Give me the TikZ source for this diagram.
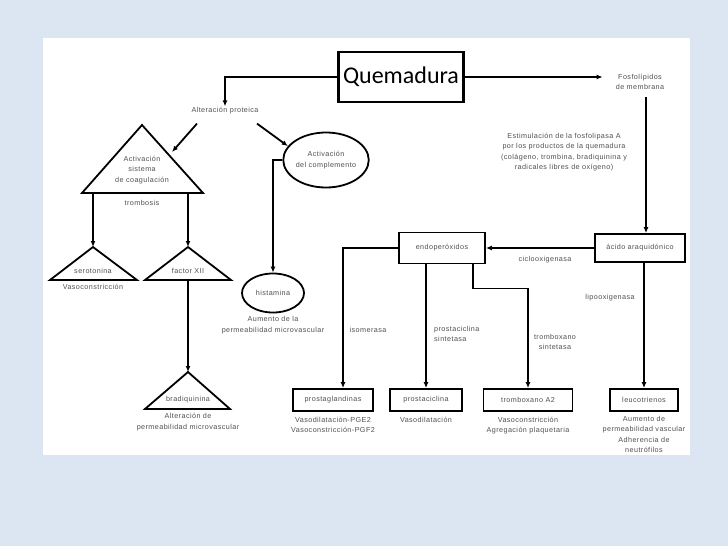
\documentclass[tikz,border=0pt]{standalone}
\usepackage{fontspec}
\setmainfont{Liberation Sans}[LetterSpace=6]
\newfontfamily\titulo{Carlito}
\usepackage{tikz}
\usetikzlibrary{arrows.meta, positioning, calc, shapes.geometric}

\definecolor{fondo}{RGB}{220,230,242}
\definecolor{texto}{RGB}{80,80,80}

\begin{document}
\begin{tikzpicture}[x=1pt, y=-1pt, >={Latex[length=6pt,width=5pt]},
    txt/.style={font=\fontsize{7.2}{10.5}\selectfont, text=texto, align=center, inner sep=1pt},
    caja/.style={draw, line width=1.8pt, txt, minimum height=22pt},
    elipse/.style={draw, ellipse, line width=1.8pt, txt, inner sep=0pt},
    linea/.style={line width=1.8pt},
    tri/.style={line width=1.8pt, line join=miter}]

    % fondo y hoja
    \fill[fondo] (0,0) rectangle (728,546);
    \fill[white] (43,38) rectangle (690,455);
    \useasboundingbox (0,0) rectangle (728,546);

    % quemadura
    \node[draw, line width=2.4pt, minimum width=125pt, minimum height=50pt,
          font=\titulo\fontsize{24}{24}\selectfont] (quem) at (401,77) {Quemadura};
    \node[txt] (alt) at (225,111) {Alteración proteica};
    \node[txt] (fosfo) at (640,82) {Fosfolípidos\\de membrana};

    \draw[linea,->] (quem.west) -| (alt.north);
    \draw[linea,->, shorten >=12pt] (quem.east) -- (quem.east -| fosfo.west);

    % rama izquierda
    \draw[tri] (142,125) coordinate (coagA) -- (203,193) -- (82,193) -- cycle;
    \node[txt] (coag) at (142,170) {Activación\\sistema\\de coagulación};
    \node[txt] (tromb) at (142,203) {trombosis};
    \coordinate (coagR) at (172,152);
    \coordinate (coagBI) at (93,193);
    \coordinate (coagBD) at (188,193);

    \node[elipse, minimum width=71pt, minimum height=55pt] (compl) at (326,160) {Activación\\del complemento};

    \draw[linea,->] ($(alt.south)+(-28,8)$) -- (coagR);
    \draw[linea,->] ($(alt.south)+(32,8)$) -- (compl.160);

    \draw[tri] (93,247) coordinate (seroA) -- (137,280) -- (50,280) -- cycle;
    \node[txt] (sero) at (93,271) {serotonina};
    \node[txt] (seroc) at (93,287) {Vasoconstricción};

    \draw[tri] (188,247) coordinate (factA) -- (231,280) -- (145,280) -- cycle;
    \node[txt] (fact) at (188,271) {factor XII};
    \coordinate (factB) at (188,280);

    \draw[tri] (188,372) coordinate (bradA) -- (230,409) -- (145,409) -- cycle;
    \node[txt] (bradi) at (188,400) {bradiquinina};
    \node[txt] (bradic) at (188,422) {Alteración de\\permeabilidad microvascular};

    \draw[linea,->] (coagBI) -- (seroA);
    \draw[linea,->] (coagBD) -- (factA);
    \draw[linea,->] (factB) -- (bradA);

    \node[elipse, minimum width=62pt, minimum height=39pt] (hist) at (273,293) {histamina};
    \node[txt, below=2pt of hist] (histc) {Aumento de la\\permeabilidad microvascular};
    \draw[linea,->] (compl.west) -| (hist.north);

    % rama derecha
    \node[txt] (estim) at (564,152) {Estimulación de la fosfolipasa A\\por los productos de la quemadura\\(colágeno, trombina, bradiquinina y\\radicales libres de oxígeno)};

    \node[caja, minimum width=90pt, minimum height=28pt] (acido) at (640,248) {ácido araquidónico};
    \node[caja, minimum width=86pt, minimum height=31pt] (endo) at (442,248) {endoperóxidos};

    \draw[linea,->, shorten <=6pt] ([xshift=6pt]fosfo.south) -- ([xshift=6pt]fosfo.south |- acido.north);
    \draw[linea,->] (acido.west) -- (endo.east);
    \node[txt] (cox) at (545,260) {ciclooxigenasa};

    \node[caja, minimum width=80pt] (pg) at (333,400) {prostaglandinas};
    \node[caja, minimum width=72pt] (pgi) at (426,400) {prostaciclina};
    \node[caja, minimum width=89pt] (txa) at (528,400) {tromboxano A2};
    \node[caja, minimum width=68pt] (leuco) at (644,400) {leucotrienos};

    \draw[linea,->] (endo.west) -| ([xshift=10pt]pg.north);
    \draw[linea,->] (pgi.north |- endo.south) -- (pgi.north);
    \draw[linea,->] ([xshift=31pt]endo.south) -- ++(0,24) -| (txa.north);
    \draw[linea,->] (leuco.north |- acido.south) -- (leuco.north);

    \node[txt] (isom) at (368,330) {isomerasa};
    \node[txt, align=left, anchor=west] (pgis) at (433,334) {prostaciclina\\sintetasa};
    \node[txt] (txas) at (555,342) {tromboxano\\sintetasa};
    \node[txt] (lox) at (610,298) {lipooxigenasa};

    \node[txt, below=4pt of pg] (pgc) {Vasodilatación-PGE2\\Vasoconstricción-PGF2};
    \node[txt, below=4pt of pgi] (pgic) {Vasodilatación};
    \node[txt, below=4pt of txa] (txac) {Vasoconstricción\\Agregación plaquetaria};
    \node[txt, below=3pt of leuco] (leucoc) {Aumento de\\permeabilidad vascular\\Adherencia de\\neutrófilos};

\end{tikzpicture}
\end{document}
